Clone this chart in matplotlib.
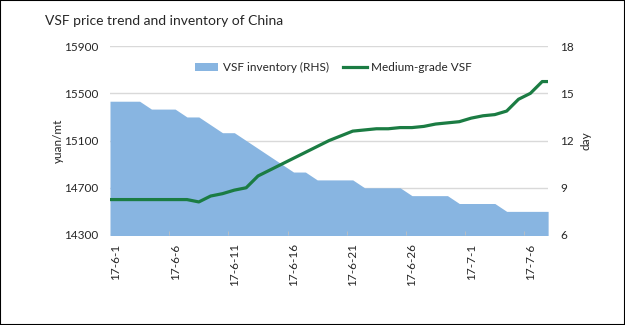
import numpy as np
import pandas as pd
import matplotlib
matplotlib.use("Agg")
import matplotlib.pyplot as plt
from matplotlib.patches import Patch, Rectangle
from matplotlib.lines import Line2D

plt.rcParams["font.family"] = ["Lato", "DejaVu Sans"]

# daily categories, 2017-06-01 .. 2017-07-07
dates = pd.date_range("2017-06-01", "2017-07-07", freq="D")
labels = [f"17-{d.month}-{d.day}" for d in dates]

# VSF inventory, days (right axis)
inventory = [14.5, 14.5, 14.5, 14, 14, 14, 13.5, 13.5, 13, 12.5,
             12.5, 12, 11.5, 11, 10.5, 10, 10, 9.5, 9.5, 9.5,
             9.5, 9, 9, 9, 9, 8.5, 8.5, 8.5, 8.5, 8,
             8, 8, 8, 7.5, 7.5, 7.5, 7.5]

# Medium-grade VSF price, yuan/mt (left axis)
price = [14600, 14600, 14600, 14600, 14600, 14600, 14600, 14580, 14630, 14650,
         14680, 14700, 14800, 14850, 14900, 14950, 15000, 15050, 15100, 15140,
         15180, 15190, 15200, 15200, 15210, 15210, 15220, 15240, 15250, 15260,
         15290, 15310, 15320, 15350, 15450, 15500, 15600]

blue = "#88B5E1"
green = "#1B7C43"
txt = "#262626"

fig = plt.figure(figsize=(6.25, 3.25), dpi=100)
ax = fig.add_axes([0.176, 0.277, 0.701, 0.581])
ax2 = ax.twinx()

x = np.arange(len(labels))
# Excel draws the series out to the plot edges (half a category each side)
xe = np.r_[-0.5, x, x[-1] + 0.5]
inv_e = np.r_[inventory[0], inventory, inventory[-1]]
price_e = np.r_[price[0], price, price[-1]]

ax2.fill_between(xe, 0, inv_e, color=blue, lw=0, zorder=2)
ax2.set_ylim(6, 18)
ax2.set_yticks([6, 9, 12, 15, 18])
ax2.grid(axis="y", color="#D9D9D9", lw=1, zorder=0)
ax2.set_axisbelow(True)
ax2.set_ylabel("day", fontsize=8.5, color=txt)
ax2.yaxis.set_label_coords(1.074, 0.5)

ax.set_zorder(ax2.get_zorder() + 1)
ax.patch.set_visible(False)
ax.plot(xe, price_e, color=green, lw=2.3, solid_joinstyle="round", zorder=3)
ax.set_ylim(14300, 15900)
ax.set_yticks(np.arange(14300, 15901, 400))
ax.set_ylabel("yuan/mt", fontsize=8.5, color=txt)
ax.yaxis.set_label_coords(-0.105, 0.5)

ax.set_xlim(-0.5, len(labels) - 0.5)
ax.set_xticks(x[::5])
ax.set_xticklabels(labels[::5], rotation=90)
ax.set_xticks(np.arange(4.5, len(labels), 5), minor=True)
ax.tick_params(axis="x", which="major", length=0, pad=6, labelsize=8.5, labelcolor=txt)
ax.tick_params(axis="x", which="minor", length=3, color="#BFBFBF", direction="in")

for a in (ax, ax2):
    for s in a.spines.values():
        s.set_visible(False)
ax.tick_params(axis="y", length=0, pad=8.5, labelsize=8.5, labelcolor=txt)
ax2.tick_params(axis="y", length=0, pad=8.5, labelsize=8.5, labelcolor=txt)

handles = [Patch(facecolor=blue, edgecolor="none"),
           Line2D([0], [0], color=green, lw=2.3)]
ax.legend(handles, ["VSF inventory (RHS)", "Medium-grade VSF"], loc="upper center",
          bbox_to_anchor=(0.51, 0.97), ncol=2, frameon=False, fontsize=8.5,
          handlelength=2.0, handletextpad=0.4, columnspacing=1.2,
          labelcolor=txt)

fig.text(0.072, 0.935, "VSF price trend and inventory of China", fontsize=10,
         color=txt, va="center")
fig.add_artist(Rectangle((0, 0), 1, 1, transform=fig.transFigure, fill=False,
                         edgecolor="black", lw=1.5))

fig.savefig("out.png", dpi=100)
